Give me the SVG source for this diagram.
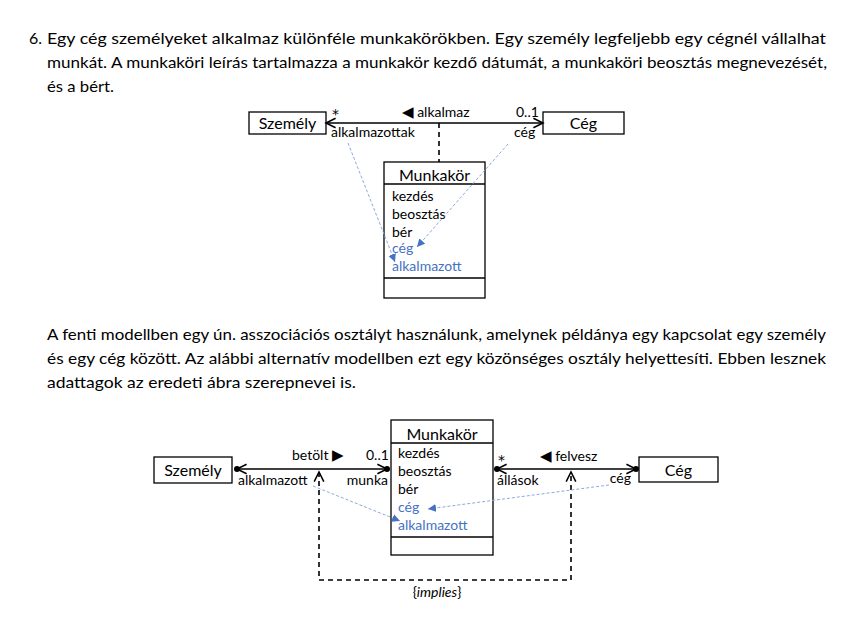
<svg xmlns="http://www.w3.org/2000/svg" width="847" height="617" viewBox="0 0 847 617">
<style>
text{font-family:Lato,"Open Sans","DejaVu Sans",sans-serif;fill:#000}
.p{font-size:16px}
.n{font-size:16px}
.a{font-size:14px}
.l{font-size:14px}
.s{font-family:"DejaVu Sans",sans-serif;font-size:14px}
.t{font-family:"DejaVu Sans",sans-serif;font-size:15px}
.b{fill:#4472C4}
.box{fill:#fff;stroke:#000;stroke-width:1.3}
.assoc{stroke:#000;stroke-width:1.3;fill:none}
.blue{stroke:#8FAADC;stroke-width:1;stroke-dasharray:3,2;fill:none}
.dash{stroke:#000;stroke-width:1.6;stroke-dasharray:5,4;fill:none}
</style>
<defs>
<marker id="open" markerUnits="userSpaceOnUse" markerWidth="12" markerHeight="12" refX="8" refY="4" orient="auto-start-reverse" viewBox="0 0 10 8" overflow="visible">
<path d="M0,0 L8,4 L0,8" fill="none" stroke="#000" stroke-width="1.3"/>
</marker>
<marker id="tri" markerUnits="userSpaceOnUse" markerWidth="8" markerHeight="8" refX="7" refY="3.5" orient="auto" viewBox="0 0 7 7">
<path d="M0,0 L7,3.5 L0,7 Z" fill="#4472C4"/>
</marker>
</defs>

<g id="text1" class="p">
<text x="29" y="44">6.</text>
<text x="47" y="44" textLength="779" lengthAdjust="spacingAndGlyphs">Egy cég személyeket alkalmaz különféle munkakörökben. Egy személy legfeljebb egy cégnél vállalhat</text>
<text x="47" y="68" textLength="780" lengthAdjust="spacingAndGlyphs">munkát. A munkaköri leírás tartalmazza a munkakör kezdő dátumát, a munkaköri beosztás megnevezését,</text>
<text x="47" y="92" textLength="67" lengthAdjust="spacingAndGlyphs">és a bért.</text>
</g>

<g id="text2" class="p">
<text x="47" y="340" textLength="779" lengthAdjust="spacingAndGlyphs">A fenti modellben egy ún. asszociációs osztályt használunk, amelynek példánya egy kapcsolat egy személy</text>
<text x="47" y="364" textLength="779" lengthAdjust="spacingAndGlyphs">és egy cég között. Az alábbi alternatív modellben ezt egy közönséges osztály helyettesíti. Ebben lesznek</text>
<text x="47" y="388" textLength="309" lengthAdjust="spacingAndGlyphs">adattagok az eredeti ábra szerepnevei is.</text>
</g>

<!-- Top diagram -->
<g id="szemely1">
<rect class="box" x="249" y="112" width="77" height="22"/>
<text class="n" x="287.5" y="129" text-anchor="middle">Személy</text>
</g>

<g id="ceg1">
<rect class="box" x="543" y="112" width="81" height="22"/>
<text class="n" x="583.5" y="129" text-anchor="middle">Cég</text>
</g>

<g id="munkakor1">
<rect class="box" x="384" y="162" width="101" height="136"/>
<line class="assoc" x1="384" y1="184" x2="485" y2="184"/>
<line class="assoc" x1="384" y1="278" x2="485" y2="278"/>
<text class="n" x="434.5" y="181" text-anchor="middle">Munkakör</text>
<text class="a" x="392" y="201">kezdés</text>
<text class="a" x="392" y="219">beosztás</text>
<text class="a" x="392" y="237">bér</text>
<text class="a b" x="392" y="253">cég</text>
<text class="a b" x="392" y="271">alkalmazott</text>
</g>

<g id="connectors1">
<line class="assoc" x1="326" y1="123" x2="543" y2="123" marker-start="url(#open)" marker-end="url(#open)"/>
<line class="dash" x1="439" y1="123" x2="439" y2="162"/>
<line class="blue" x1="348" y1="143" x2="395" y2="262" marker-end="url(#tri)"/>
<line class="blue" x1="508" y1="144" x2="417" y2="247" marker-end="url(#tri)"/>
<text class="s" x="332" y="119">*</text>
<text class="l" x="402" y="117"><tspan class="t">◀</tspan> alkalmaz</text>
<text class="l" x="516" y="117">0..1</text>
<text class="l" x="331" y="137">alkalmazottak</text>
<text class="l" x="514" y="137">cég</text>
</g>

<!-- Bottom diagram -->
<g id="szemely2">
<rect class="box" x="154" y="457" width="78" height="26"/>
<text class="n" x="193" y="476" text-anchor="middle">Személy</text>
</g>

<g id="ceg2">
<rect class="box" x="639" y="457" width="79" height="25"/>
<text class="n" x="678.5" y="476" text-anchor="middle">Cég</text>
</g>

<g id="munkakor2">
<rect class="box" x="391" y="420" width="102" height="135"/>
<line class="assoc" x1="391" y1="443" x2="493" y2="443"/>
<line class="assoc" x1="391" y1="537" x2="493" y2="537"/>
<text class="n" x="442" y="440" text-anchor="middle">Munkakör</text>
<text class="a" x="398" y="458">kezdés</text>
<text class="a" x="398" y="476">beosztás</text>
<text class="a" x="398" y="494">bér</text>
<text class="a b" x="398" y="512">cég</text>
<text class="a b" x="398" y="530">alkalmazott</text>
</g>

<g id="connectors2">
<line class="assoc" x1="237" y1="469" x2="387" y2="469" marker-start="url(#open)" marker-end="url(#open)"/>
<circle cx="237" cy="469" r="3"/>
<circle cx="387" cy="469" r="3"/>
<line class="assoc" x1="497" y1="469" x2="636" y2="469" marker-start="url(#open)" marker-end="url(#open)"/>
<circle cx="497" cy="469" r="3"/>
<circle cx="636" cy="469" r="3"/>
<path class="dash" d="M319,472 V580 H571 V472" marker-start="url(#open)" marker-end="url(#open)"/>
<line class="blue" x1="313" y1="486" x2="400" y2="521" marker-end="url(#tri)"/>
<line class="blue" x1="609" y1="485" x2="428" y2="509" marker-end="url(#tri)"/>
<text class="l" x="292" y="460">betölt <tspan class="t">▶</tspan></text>
<text class="l" x="366" y="460">0..1</text>
<text class="l" x="238" y="485">alkalmazott</text>
<text class="l" x="388" y="485" text-anchor="end">munka</text>
<text class="s" x="498" y="465">*</text>
<text class="l" x="540" y="461"><tspan class="t">◀</tspan> felvesz</text>
<text class="l" x="497" y="485">állások</text>
<text class="l" x="631" y="483" text-anchor="end">cég</text>
<text class="l" x="437" y="597" text-anchor="middle">{<tspan font-style="italic">implies</tspan>}</text>
</g>
</svg>
